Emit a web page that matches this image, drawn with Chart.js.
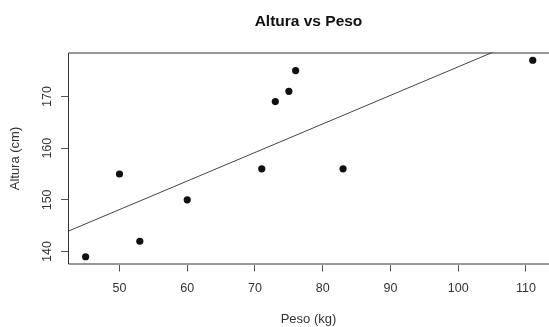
<!DOCTYPE html>
<html>
<head>
<meta charset="utf-8">
<script src="https://cdn.jsdelivr.net/npm/chart.js@4.4.0/dist/chart.umd.min.js"></script>
<style>
  html, body { margin: 0; padding: 0; background: #fff; overflow: hidden; }
  canvas { display: block; }
</style>
</head>
<body>
<canvas id="scatterChart" width="549" height="327"></canvas>
<script>
// Datos
const peso = [45, 50, 53, 60, 71, 73, 75, 76, 83, 111];
const altura = [139, 155, 142, 150, 156, 169, 171, 175, 156, 177];
const xTicks = [50, 60, 70, 80, 90, 100, 110];
const yTicks = [140, 150, 160, 170];

const titulo = 'Altura vs Peso';
const xTitulo = 'Peso (kg)';
const yTitulo = 'Altura (cm)';

// limites (la caja se sale un poco por la derecha)
const xMin = 42.4, xMax = 113.4;
const yMin = 137.5, yMax = 178.5;

// recta de regresion lm(altura ~ peso)
const mx = peso.reduce((a, b) => a + b, 0) / peso.length;
const my = altura.reduce((a, b) => a + b, 0) / altura.length;
let sxy = 0, sxx = 0;
peso.forEach((x, i) => { sxy += (x - mx) * (altura[i] - my); sxx += (x - mx) * (x - mx); });
const pendiente = sxy / sxx;
const intercepto = my - pendiente * mx;

const puntos = peso.map((x, i) => ({ x: x, y: altura[i] }));
const recta = [xMin, xMax].map(x => ({ x: x, y: intercepto + pendiente * x }));

const FONT = '"Liberation Sans", Arial, sans-serif';

// caja, titulo y etiquetas del eje y (rotadas como en R)
const estiloR = {
    id: 'estiloR',
    afterDraw(chart) {
        const { ctx, chartArea: a, scales } = chart;
        ctx.save();
        ctx.strokeStyle = '#333';
        ctx.lineWidth = 1;
        ctx.beginPath();
        ctx.moveTo(chart.width, a.top + 0.5);
        ctx.lineTo(a.left + 0.5, a.top + 0.5);
        ctx.lineTo(a.left + 0.5, a.bottom - 0.5);
        ctx.lineTo(chart.width, a.bottom - 0.5);
        ctx.stroke();

        ctx.fillStyle = '#111';
        ctx.font = 'bold 15.5px ' + FONT;
        ctx.textAlign = 'center';
        ctx.textBaseline = 'middle';
        ctx.fillText(titulo, 308.5, 21.5);

        ctx.fillStyle = '#333';
        ctx.font = '12.5px ' + FONT;
        yTicks.forEach(v => {
            const py = scales.y.getPixelForValue(v);
            ctx.save();
            ctx.translate(47.5, py);
            ctx.rotate(-Math.PI / 2);
            ctx.fillText(String(v), 0, 0);
            ctx.restore();
        });
        ctx.restore();
    }
};

const ctx = document.getElementById('scatterChart').getContext('2d');
const grafico = new Chart(ctx, {
    type: 'scatter',
    data: {
        datasets: [
            {
                label: 'datos',
                data: puntos,
                backgroundColor: '#111',
                borderWidth: 0,
                pointRadius: 3.6,
            },
            {
                type: 'line',
                label: 'lm',
                data: recta,
                borderColor: '#444',
                borderWidth: 1,
                pointRadius: 0,
                fill: false,
            }
        ]
    },
    options: {
        responsive: false,
        animation: false,
        devicePixelRatio: 1,
        layout: { autoPadding: false, padding: { top: 52.5, left: 0, right: 0, bottom: 0 } },
        plugins: {
            legend: { display: false },
            tooltip: { enabled: false },
        },
        scales: {
            x: {
                type: 'linear',
                min: xMin,
                max: xMax,
                afterBuildTicks: s => { s.ticks = xTicks.map(v => ({ value: v })); },
                afterFit: s => { s.height = 62.5; s.paddingLeft = 0; s.paddingRight = 0; },
                border: { display: false },
                grid: { drawOnChartArea: false, drawTicks: true, tickLength: 7, color: '#555' },
                ticks: { color: '#333', font: { family: FONT, size: 12.5 }, padding: 9.5, maxRotation: 0 },
                title: { display: true, text: xTitulo, color: '#333', font: { family: FONT, size: 13 }, padding: { bottom: 0 } },
            },
            y: {
                type: 'linear',
                min: yMin,
                max: yMax,
                afterBuildTicks: s => { s.ticks = yTicks.map(v => ({ value: v })); },
                afterFit: s => { s.width = 68; s.paddingTop = 0; s.paddingBottom = 0; },
                border: { display: false },
                grid: { drawOnChartArea: false, drawTicks: true, tickLength: 7, color: '#555' },
                ticks: { display: false },
                title: { display: true, text: yTitulo, color: '#333', font: { family: FONT, size: 13 }, padding: { top: 8 } },
            }
        }
    },
    plugins: [estiloR]
});
</script>
</body>
</html>
